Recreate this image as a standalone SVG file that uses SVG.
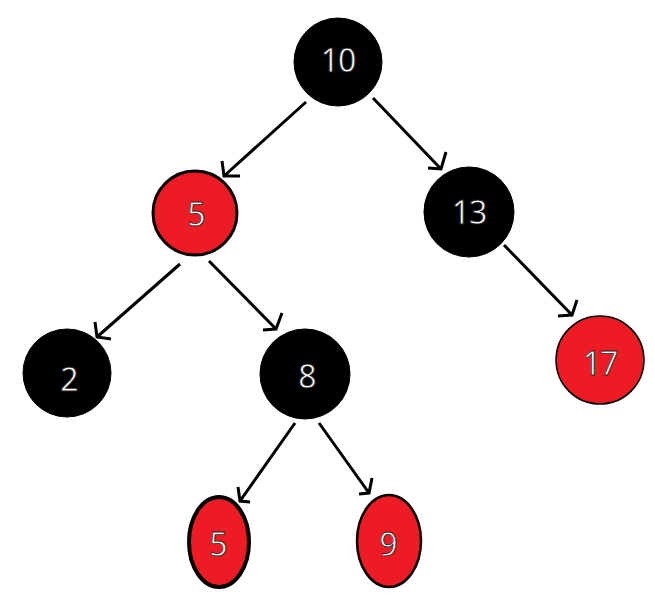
<svg xmlns="http://www.w3.org/2000/svg" width="655" height="609" viewBox="0 0 655 609">
<style>
.blk{fill:#000;stroke:#000;stroke-width:1}
.red{fill:#ED1C24;stroke:#000;stroke-width:3}
.lbl{font-family:"Noto Sans","Liberation Sans",sans-serif;font-size:32px;fill:#fff;stroke:#222;stroke-width:0.8;text-anchor:middle;letter-spacing:-1px}
.edge{fill:none;stroke:#000;stroke-width:3;stroke-linecap:butt;stroke-linejoin:miter}
</style>
<rect width="655" height="609" fill="#fff"/>
<g id="connectors">
<path class="edge" d="M306,102 L224,176 M222,161 L224,176 L240,176"/>
<path class="edge" d="M373,98 L441,169 M446,152 L441,169 L428,168"/>
<path class="edge" d="M180,264 L97,337 M95,322 L97,337 L111,339"/>
<path class="edge" d="M209,261 L276,329 M282,313 L276,329 L263,330"/>
<path class="edge" d="M504,245 L572,315 M577,300 L572,315 L558,316"/>
<path class="edge" d="M295,423 L240,501 M238,487 L240,501 L250,502"/>
<path class="edge" d="M319,423 L369,493 M372,478 L369,493 L359,494"/>
</g>
<g id="n10"><circle class="blk" cx="338" cy="62" r="44"/><text class="lbl" x="338" y="72">10</text></g>
<g id="n5"><circle class="red" cx="195" cy="213" r="42"/><text class="lbl" x="196" y="226">5</text></g>
<g id="n13"><circle class="blk" cx="469" cy="212" r="45"/><text class="lbl" x="469" y="224">13</text></g>
<g id="n2"><circle class="blk" cx="67" cy="373" r="44"/><text class="lbl" x="69" y="391">2</text></g>
<g id="n8"><circle class="blk" cx="305" cy="374" r="45"/><text class="lbl" x="307" y="388">8</text></g>
<g id="n17"><circle class="red" style="stroke-width:1.5" cx="600" cy="360" r="44"/><text class="lbl" x="600" y="375">17</text></g>
<g id="n5b"><ellipse class="red" style="stroke-width:4" cx="219" cy="542" rx="30" ry="45"/><text class="lbl" x="218" y="556">5</text></g>
<g id="n9"><ellipse class="red" style="stroke-width:2.5" cx="389" cy="541" rx="32" ry="46"/><text class="lbl" x="388" y="556">9</text></g>
</svg>
